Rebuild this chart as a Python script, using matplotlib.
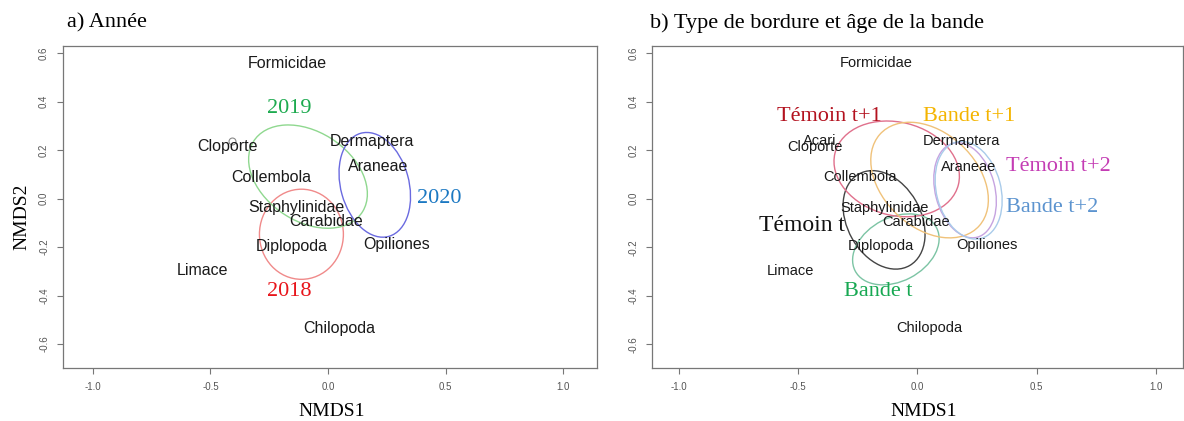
import matplotlib
matplotlib.use("Agg")
import matplotlib.pyplot as plt
import matplotlib.patches as patches

# species scores (NMDS1, NMDS2)
species = ["Formicidae", "Acari", "Cloporte", "Dermaptera", "Araneae", "Collembola",
           "Staphylinidae", "Carabidae", "Diplopoda", "Opiliones", "Limace", "Chilopoda"]
sp_x = [-0.171, -0.41, -0.429, 0.186, 0.214, -0.240, -0.136, -0.006, -0.154, 0.290, -0.533, 0.049]
sp_y = [0.559, 0.237, 0.214, 0.237, 0.131, 0.088, -0.037, -0.095, -0.196, -0.189, -0.297, -0.534]

# a) year ellipses
years = ["2018", "2019", "2020"]
year_cx = [-0.113, -0.085, 0.199]
year_cy = [-0.147, 0.091, 0.057]
year_w = [0.357, 0.547, 0.290]
year_h = [0.372, 0.371, 0.442]
year_ang = [0, -31.5, 16]
year_lab_x = [-0.166, -0.166, 0.472]
year_lab_y = [-0.384, 0.373, 0.0]
year_txt_col = ["#E8151B", "#1DAA4F", "#1B78C2"]
year_ell_col = ["#F08A8A", "#8FD88F", "#6A6AE0"]

# b) border type x strip age ellipses
groups = ["Témoin t", "Bande t", "Témoin t+1", "Bande t+1", "Témoin t+2", "Bande t+2"]
grp_cx = [-0.140, -0.0905, -0.087, 0.051, 0.200, 0.215]
grp_cy = [-0.087, -0.2085, 0.123, 0.077, 0.035, 0.035]
grp_w = [0.433, 0.385, 0.534, 0.562, 0.25, 0.27]
grp_h = [0.309, 0.263, 0.384, 0.393, 0.40, 0.41]
grp_ang = [-60, 27, -14, -42, 15, 15]
grp_lab_x = [-0.486, -0.166, -0.369, 0.216, 0.591, 0.565]
grp_lab_y = [-0.111, -0.384, 0.340, 0.340, 0.131, -0.034]
grp_lab_size = [17, 16, 16, 16, 16, 16]
grp_txt_col = ["#111111", "#17A852", "#B3121F", "#F4B400", "#C43DB4", "#5B93CF"]
grp_ell_col = ["#444444", "#7CC4A4", "#E0708C", "#F0C27A", "#C6A3E0", "#A9CBEA"]

xticks = [-1.0, -0.5, 0.0, 0.5, 1.0]
yticks = [-0.6, -0.4, -0.2, 0.0, 0.2, 0.4, 0.6]

SANS = "Liberation Sans"
SERIF = "Liberation Serif"

fig = plt.figure(figsize=(11.84, 4.21), dpi=100)
ax1 = fig.add_axes([0.0532, 0.1259, 0.4510, 0.7648])
ax2 = fig.add_axes([0.5507, 0.1259, 0.4485, 0.7648])


def style(ax, xlim, ylim):
    ax.set_xlim(*xlim)
    ax.set_ylim(*ylim)
    ax.set_xticks(xticks)
    ax.set_xticklabels(["%.1f" % t for t in xticks], fontfamily=SANS, fontsize=7, color="#555555")
    ax.set_yticks(yticks)
    ax.set_yticklabels(["%.1f" % t for t in yticks], fontfamily=SANS, fontsize=7, color="#555555",
                       rotation=90, va="center")
    ax.tick_params(length=4, width=0.8, color="#777777", pad=6)
    for s in ax.spines.values():
        s.set_color("#777777")
        s.set_linewidth(0.9)


style(ax1, (-1.127, 1.144), (-0.699, 0.630))
style(ax2, (-1.114, 1.115), (-0.697, 0.629))

# panel a
for i in range(len(years)):
    e = patches.Ellipse((year_cx[i], year_cy[i]), year_w[i], year_h[i], angle=year_ang[i],
                        fill=False, edgecolor=year_ell_col[i], linewidth=1.0)
    ax1.add_patch(e)
for name, x, y in zip(species, sp_x, sp_y):
    if name == "Acari":
        ax1.plot(x, y, marker="o", mfc="none", mec="#888888", ms=5, mew=0.8)
        continue
    ax1.text(x, y, name, ha="center", va="center", fontfamily=SANS, fontsize=11.5, color="#1a1a1a")
for i in range(len(years)):
    ax1.text(year_lab_x[i], year_lab_y[i], years[i], ha="center", va="center",
             fontfamily=SERIF, fontsize=16, color=year_txt_col[i])

# panel b
for i in range(len(groups)):
    e = patches.Ellipse((grp_cx[i], grp_cy[i]), grp_w[i], grp_h[i], angle=grp_ang[i],
                        fill=False, edgecolor=grp_ell_col[i], linewidth=1.0)
    ax2.add_patch(e)
for name, x, y in zip(species, sp_x, sp_y):
    ax2.text(x, y, name, ha="center", va="center", fontfamily=SANS, fontsize=10.5, color="#1a1a1a")
for i in range(len(groups)):
    ax2.text(grp_lab_x[i], grp_lab_y[i], groups[i], ha="center", va="center",
             fontfamily=SERIF, fontsize=grp_lab_size[i], color=grp_txt_col[i])

# titles and axis labels
fig.text(67 / 1184, 1 - 23 / 421, "a) Année", ha="left", va="center", fontfamily=SERIF, fontsize=16)
fig.text(650 / 1184, 1 - 23 / 421, "b) Type de bordure et âge de la bande", ha="left", va="center",
         fontfamily=SERIF, fontsize=16)
fig.text(22 / 1184, 1 - 217 / 421, "NMDS2", rotation=90, ha="center", va="center",
         fontfamily=SERIF, fontsize=14)
fig.text(332 / 1184, 1 - 412 / 421, "NMDS1", ha="center", va="center", fontfamily=SERIF, fontsize=14)
fig.text(924 / 1184, 1 - 412 / 421, "NMDS1", ha="center", va="center", fontfamily=SERIF, fontsize=14)

fig.savefig("out.png", dpi=100)
